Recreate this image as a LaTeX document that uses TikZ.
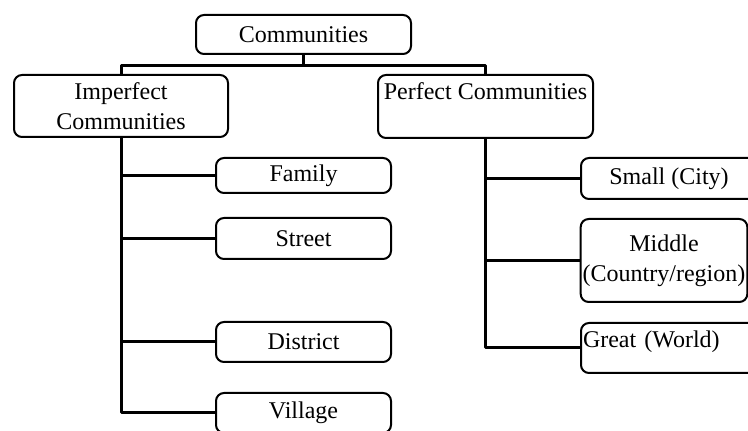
\documentclass[tikz,border=0pt]{standalone}
\usepackage{fontspec}
\setmainfont{Liberation Serif}
\usetikzlibrary{calc}

\begin{document}
\begin{tikzpicture}[x=0.5pt, y=-0.5pt, line join=round,
    box/.style={draw, line width=1pt, rounded corners=4pt, align=center, inner sep=1pt,
        font=\fontsize{12}{15}\selectfont},
    kid/.style={box, minimum width=87.5pt, minimum height=20pt},
    far/.style={box, minimum width=88pt},
    link/.style={line width=1.5pt}]
    \useasboundingbox (0,0) rectangle (748,431);
    % top level
    \node[box, minimum width=107.5pt, minimum height=19.5pt] (comm) at (303.5,34.5) {Communities};
    \node[box, minimum width=107pt, minimum height=31pt] (imp) at (121,106) {Imperfect\\Communities};
    \node[box, minimum width=107.5pt, minimum height=31.5pt] (perf) at (485.5,106.5) {Perfect Communities\\ \mbox{}};
    % imperfect ones
    \node[kid, minimum height=17.5pt] (fam) at (303.5,175.5) {Family};
    \node[kid, minimum height=20.5pt] (str) at (303.5,238.5) {Street};
    \node[kid] (dist) at (303.5,342) {District};
    \node[kid] (vil) at (303.5,413) {Village};
    % perfect ones
    \node[far, minimum height=20.5pt] (small) at (669,178.5) {Small (City)};
    \node[far, minimum width=83pt, minimum height=41.5pt] (mid) at (664,260.5) {Middle\\(Country/region)};
    \node[far, minimum height=25pt, text width=86pt, align=left, text depth=9pt] (great) at (669,348) {Great (World)};

    \draw[link] (comm.south) -- ++(0,10.5) -| (imp.north);
    \draw[link] (comm.south) -- ++(0,10.5) -| (perf.north);

    \draw[link] (imp.south) |- (vil.west);
    \foreach \k in {fam,str,dist}
        \draw[link] (\k.west) -- (\k.west -| imp.south);

    \draw[link] (perf.south) |- (great.west);
    \foreach \k in {small,mid}
        \draw[link] (\k.west) -- (\k.west -| perf.south);
\end{tikzpicture}
\end{document}
